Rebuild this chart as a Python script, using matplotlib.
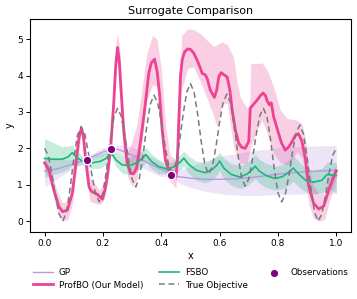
import matplotlib
matplotlib.use("Agg")
import matplotlib.pyplot as plt

# ---- True objective ----
true_x = [i * 0.0125 for i in range(81)]
true_y = [2.0, 1.809, 1.309, 0.691, 0.191,
          0.0, 0.248, 0.898, 1.702, 2.352,
          2.6, 2.402, 1.885, 1.245, 0.728,
          0.53, 0.775, 1.418, 2.212, 2.855,
          3.1, 2.894, 2.354, 1.686, 1.146,
          0.94, 1.181, 1.811, 2.589, 3.219,
          3.46, 3.258, 2.731, 2.079, 1.552,
          1.35, 1.582, 2.190, 2.940, 3.548,
          3.78, 3.542, 2.920, 2.150, 1.528,
          1.29, 1.500, 2.050, 2.730, 3.280,
          3.49, 3.248, 2.616, 1.834, 1.202,
          0.96, 1.164, 1.699, 2.361, 2.896,
          3.1, 2.855, 2.212, 1.418, 0.775,
          0.53, 0.732, 1.259, 1.911, 2.438,
          2.64, 2.388, 1.728, 0.912, 0.252,
          0.0, 0.191, 0.691, 1.309, 1.809, 2.0]

# ---- ProfBO mean ----
prof_x = [0.0, 0.015, 0.032, 0.049, 0.062, 0.078, 0.095, 0.106, 0.118, 0.126,
          0.133, 0.14, 0.152, 0.16, 0.18, 0.198, 0.207, 0.215, 0.226, 0.237,
          0.244, 0.25, 0.256, 0.262, 0.272, 0.283, 0.295, 0.305, 0.315, 0.323,
          0.334, 0.345, 0.357, 0.366, 0.377, 0.386, 0.394, 0.403, 0.414, 0.426,
          0.435, 0.45, 0.455, 0.46, 0.466, 0.472, 0.48, 0.49, 0.5, 0.511,
          0.523, 0.534, 0.54, 0.551, 0.558, 0.568, 0.582, 0.59, 0.597, 0.605,
          0.615, 0.626, 0.635, 0.643, 0.654, 0.665, 0.675, 0.688, 0.7, 0.705,
          0.715, 0.728, 0.74, 0.749, 0.757, 0.763, 0.771, 0.777, 0.785, 0.802,
          0.812, 0.825, 0.837, 0.848, 0.86, 0.87, 0.882, 0.894, 0.905, 0.922,
          0.94, 0.957, 0.974, 0.99, 1.0]
prof_y = [1.60, 1.40, 0.85, 0.40, 0.26, 0.30, 0.76, 1.49, 2.30, 2.55,
          2.35, 1.75, 0.95, 0.82, 0.74, 0.60, 0.85, 1.22, 1.95, 3.24,
          4.30, 4.77, 4.40, 3.60, 2.41, 1.59, 1.31, 1.30, 1.45, 1.86,
          2.50, 3.20, 4.06, 4.35, 4.45, 4.10, 3.50, 2.50, 1.68, 1.40,
          1.32, 1.22, 1.60, 2.77, 4.00, 4.45, 4.65, 4.73, 4.72, 4.62,
          4.42, 4.20, 4.06, 4.02, 3.90, 3.60, 3.40, 3.60, 3.96, 4.08,
          4.02, 3.96, 3.60, 3.05, 2.50, 2.15, 2.03, 2.00, 2.20, 3.10,
          3.20, 3.32, 3.45, 3.52, 3.45, 3.30, 3.19, 3.25, 2.87, 2.41,
          2.15, 1.95, 2.04, 2.18, 2.36, 2.40, 2.20, 1.70, 0.98, 0.49,
          0.33, 0.42, 0.85, 1.20, 1.38]

# ---- ProfBO uncertainty band ----
prof_band_x = [0.0, 0.02, 0.04, 0.06, 0.08, 0.095, 0.11, 0.125, 0.14, 0.155,
               0.17, 0.19, 0.205, 0.22, 0.235, 0.245, 0.25, 0.258, 0.27, 0.285,
               0.3, 0.315, 0.33, 0.35, 0.37, 0.385, 0.4, 0.415, 0.43, 0.45,
               0.46, 0.47, 0.49, 0.51, 0.534, 0.557, 0.58, 0.591, 0.608, 0.626,
               0.648, 0.66, 0.671, 0.694, 0.703, 0.707, 0.728, 0.745, 0.763, 0.785,
               0.808, 0.831, 0.848, 0.865, 0.882, 0.894, 0.905, 0.92, 0.94, 0.96,
               0.975, 1.0]
prof_lo = [1.45, 1.05, 0.35, 0.0, 0.05, 0.45, 1.5, 2.35, 1.5, 0.55,
           0.5, 0.45, 0.6, 1.3, 2.9, 4.1, 4.4, 3.9, 2.3, 1.2,
           0.95, 1.1, 1.9, 3.3, 3.75, 3.7, 2.5, 1.3, 1.1, 0.9,
           2.0, 3.6, 4.19, 4.24, 3.83, 3.37, 2.87, 2.59, 3.23, 3.23,
           2.04, 1.8, 1.59, 1.59, 1.9, 2.04, 2.5, 2.77, 2.41, 1.86,
           1.6, 1.55, 1.68, 1.9, 1.75, 1.2, 0.5, 0.1, 0.0, 0.05,
           0.5, 1.2]
prof_hi = [1.75, 1.45, 0.9, 0.5, 0.55, 1.05, 2.1, 2.68, 2.0, 1.2,
           1.05, 0.85, 1.1, 1.9, 3.5, 4.9, 5.15, 4.7, 2.9, 1.9,
           2.2, 2.6, 3.4, 4.6, 5.1, 5.0, 4.2, 2.6, 1.8, 1.7,
           3.3, 5.1, 5.28, 5.27, 5.15, 4.97, 4.8, 4.85, 4.93, 4.85,
           4.5, 3.8, 3.4, 3.1, 3.2, 4.33, 4.33, 4.35, 4.15, 3.69,
           3.05, 2.82, 2.8, 2.77, 2.68, 2.25, 1.5, 1.0, 0.75, 0.75,
           1.2, 1.55]

# ---- GP ----
gp_x = [0.0, 0.05, 0.1, 0.144, 0.18, 0.2, 0.229, 0.245, 0.26, 0.3,
        0.35, 0.4, 0.434, 0.46, 0.5, 0.55, 0.6, 0.65, 0.7, 0.75,
        0.8, 0.85, 0.9, 0.95, 1.0]
gp_y = [1.37, 1.45, 1.57, 1.70, 1.83, 1.90, 1.97, 1.98, 1.95, 1.82,
        1.62, 1.42, 1.30, 1.22, 1.18, 1.15, 1.15, 1.16, 1.19, 1.24,
        1.29, 1.33, 1.36, 1.38, 1.40]
gp_lo = [0.95, 1.2, 1.45, 1.65, 1.72, 1.78, 1.92, 1.88, 1.80, 1.60,
         1.40, 1.22, 1.25, 1.05, 0.92, 0.82, 0.75, 0.72, 0.70, 0.71,
         0.73, 0.74, 0.75, 0.75, 0.76]
gp_hi = [1.80, 1.70, 1.70, 1.75, 1.94, 2.02, 2.02, 2.08, 2.10, 2.04,
         1.84, 1.62, 1.35, 1.40, 1.50, 1.65, 1.78, 1.85, 1.92, 1.97,
         2.02, 2.05, 2.06, 2.07, 2.08]

# ---- FSBO ----
fsbo_x = [0.0, 0.03, 0.06, 0.08, 0.095, 0.11, 0.13, 0.16, 0.19, 0.21,
          0.228, 0.245, 0.265, 0.29, 0.315, 0.335, 0.347, 0.365, 0.39, 0.42,
          0.445, 0.465, 0.477, 0.495, 0.52, 0.55, 0.575, 0.592, 0.6, 0.615,
          0.64, 0.67, 0.695, 0.712, 0.722, 0.735, 0.76, 0.79, 0.815, 0.84,
          0.852, 0.87, 0.895, 0.92, 0.95, 0.968, 1.0]
fsbo_y = [1.72, 1.70, 1.70, 1.76, 1.88, 1.75, 1.65, 1.60, 1.64, 1.72,
          1.88, 1.68, 1.55, 1.52, 1.60, 1.72, 1.83, 1.65, 1.50, 1.43,
          1.50, 1.62, 1.73, 1.55, 1.40, 1.33, 1.42, 1.55, 1.65, 1.45,
          1.28, 1.21, 1.30, 1.42, 1.51, 1.38, 1.25, 1.17, 1.22, 1.36,
          1.46, 1.30, 1.12, 1.07, 1.12, 1.28, 1.25]
fsbo_lo = [1.20, 1.28, 1.35, 1.42, 1.55, 1.52, 1.55, 1.45, 1.45, 1.55,
           1.80, 1.50, 1.32, 1.28, 1.35, 1.50, 1.62, 1.45, 1.30, 1.30,
           1.30, 1.40, 1.52, 1.30, 1.12, 1.05, 1.12, 1.28, 1.38, 1.15,
           0.98, 0.90, 0.98, 1.10, 1.18, 1.05, 0.92, 0.85, 0.88, 1.00,
           1.10, 0.95, 0.80, 0.75, 0.78, 0.90, 0.78]
fsbo_hi = [2.27, 2.15, 2.05, 2.05, 2.10, 1.95, 1.78, 1.80, 1.85, 1.90,
           1.96, 1.88, 1.78, 1.75, 1.85, 1.95, 2.02, 1.85, 1.70, 1.57,
           1.68, 1.82, 1.92, 1.78, 1.65, 1.60, 1.70, 1.82, 1.90, 1.72,
           1.58, 1.52, 1.62, 1.75, 1.84, 1.70, 1.58, 1.50, 1.55, 1.70,
           1.80, 1.65, 1.45, 1.40, 1.45, 1.62, 1.62]

# ---- Observations ----
obs_x = [0.144, 0.229, 0.434]
obs_y = [1.69, 1.97, 1.27]

C_PROF = "#ec4392"
C_GP = "#b89ae0"
C_FSBO = "#1db57c"
C_TRUE = "#7a7a7a"
C_OBS = "#800080"

fig = plt.figure(figsize=(3.57, 2.99), dpi=100)
ax = fig.add_axes([0.084, 0.224, 0.899, 0.712])

ax.fill_between(gp_x, gp_lo, gp_hi, color=C_GP, alpha=0.25, linewidth=0)
ax.fill_between(fsbo_x, fsbo_lo, fsbo_hi, color=C_FSBO, alpha=0.25, linewidth=0)
ax.fill_between(prof_band_x, prof_lo, prof_hi, color=C_PROF, alpha=0.25, linewidth=0)

ax.plot(gp_x, gp_y, color=C_GP, lw=1.0, label="GP")
ax.plot(prof_x, prof_y, color=C_PROF, lw=2.0, label="ProfBO (Our Model)")
ax.plot(fsbo_x, fsbo_y, color=C_FSBO, lw=1.2, label="FSBO")
ax.plot(true_x, true_y, color=C_TRUE, lw=1.1, ls=(0, (3.8, 2.4)), label="True Objective")
ax.scatter(obs_x, obs_y, s=38, color=C_OBS, edgecolor="white", linewidth=1.0,
           zorder=5, label="Observations")

ax.set_xlim(-0.05, 1.05)
ax.set_ylim(-0.30, 5.55)
ax.set_xticks([0.0, 0.2, 0.4, 0.6, 0.8, 1.0])
ax.set_yticks([0, 1, 2, 3, 4, 5])
ax.tick_params(labelsize=6.5, length=3, width=0.7, pad=2)
for s in ax.spines.values():
    s.set_linewidth(0.8)
ax.set_xlabel("x", fontsize=7, labelpad=2)
ax.set_ylabel("y", fontsize=7, labelpad=2)
ax.set_title("Surrogate Comparison", fontsize=8, pad=4)

ax.legend(loc="upper center", bbox_to_anchor=(0.5, -0.132), ncol=3, frameon=False,
          fontsize=6.3, handlelength=2.3, columnspacing=1.8, labelspacing=0.4,
          handletextpad=0.7)

fig.savefig("out.png", dpi=100)
